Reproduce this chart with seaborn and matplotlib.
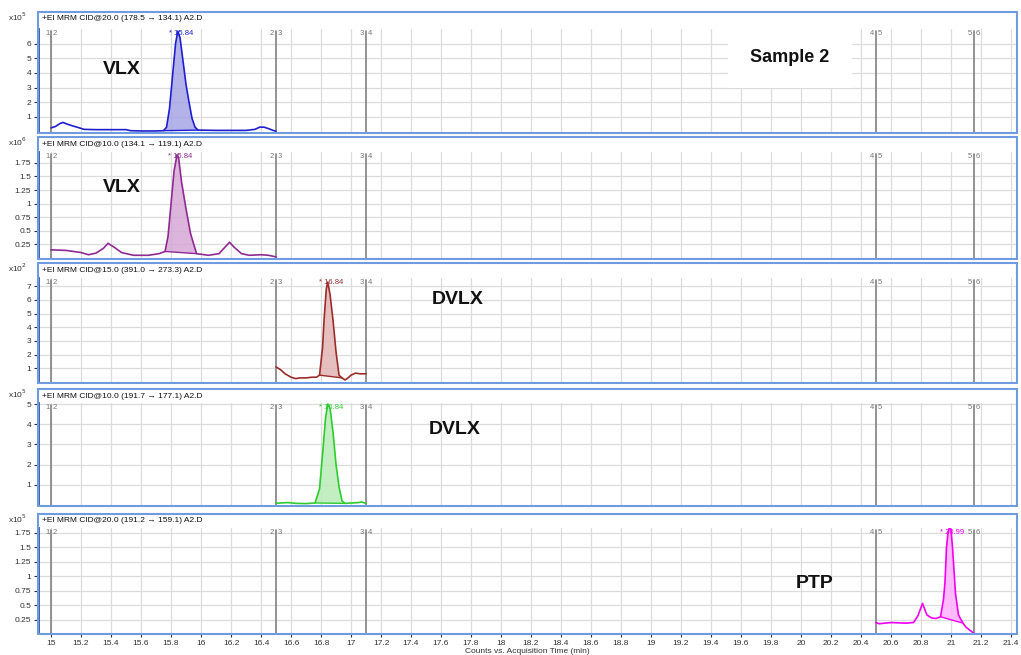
import matplotlib
matplotlib.use("Agg")
import matplotlib.pyplot as plt
import seaborn as sns
from matplotlib.patches import Rectangle

sns.set_theme(style="white")
plt.rcParams['font.family'] = ['Liberation Sans', 'DejaVu Sans']

# ---------------- data ----------------
headers = [
    "+EI MRM CID@20.0 (178.5 \u2192 134.1) A2.D",
    "+EI MRM CID@10.0 (134.1 \u2192 119.1) A2.D",
    "+EI MRM CID@15.0 (391.0 \u2192 273.3) A2.D",
    "+EI MRM CID@10.0 (191.7 \u2192 177.1) A2.D",
    "+EI MRM CID@20.0 (191.2 \u2192 159.1) A2.D",
]
exponents = [5, 6, 2, 5, 5]
compounds = ["VLX", "VLX", "DVLX", "DVLX", "PTP"]
peak_labels = ["* 15.84", "* 15.84", "* 16.84", "* 16.84", "* 20.99"]
segment_times = [15.0, 16.5, 17.1, 20.5, 21.15]
segment_names = ["1|2", "2|3", "3|4", "4|5", "5|6"]

y_ticks = [
    [1, 2, 3, 4, 5, 6],
    [0.25, 0.5, 0.75, 1, 1.25, 1.5, 1.75],
    [1, 2, 3, 4, 5, 6, 7],
    [1, 2, 3, 4, 5],
    [0.25, 0.5, 0.75, 1, 1.25, 1.5, 1.75],
]
x_ticks = [15.0, 15.2, 15.4, 15.6, 15.8, 16.0, 16.2, 16.4, 16.6, 16.8, 17.0,
           17.2, 17.4, 17.6, 17.8, 18.0, 18.2, 18.4, 18.6, 18.8, 19.0, 19.2,
           19.4, 19.6, 19.8, 20.0, 20.2, 20.4, 20.6, 20.8, 21.0, 21.2, 21.4]

t1 = [15.00, 15.03, 15.06, 15.08, 15.11, 15.14, 15.18, 15.22, 15.30, 15.40,
      15.50, 15.53, 15.60, 15.70, 15.75, 15.77, 15.79, 15.81, 15.83, 15.845,
      15.86, 15.88, 15.90, 15.92, 15.94, 15.96, 15.98, 16.05, 16.10, 16.20,
      16.30, 16.36, 16.39, 16.42, 16.45, 16.48, 16.50]
y1 = [0.25, 0.35, 0.55, 0.62, 0.50, 0.40, 0.28, 0.15, 0.13, 0.13,
      0.13, 0.06, 0.04, 0.04, 0.06, 0.30, 1.60, 3.80, 6.00, 6.85,
      6.40, 4.80, 3.20, 2.00, 0.90, 0.30, 0.10, 0.09, 0.08, 0.08,
      0.08, 0.15, 0.30, 0.30, 0.20, 0.08, 0.02]

t2 = [15.00, 15.10, 15.15, 15.20, 15.25, 15.30, 15.35, 15.38, 15.42, 15.47,
      15.55, 15.65, 15.72, 15.76, 15.78, 15.80, 15.82, 15.84, 15.85, 15.87,
      15.90, 15.93, 15.97, 16.05, 16.12, 16.16, 16.19, 16.22, 16.27, 16.32,
      16.40, 16.45, 16.50]
y2 = [0.15, 0.14, 0.12, 0.10, 0.06, 0.09, 0.18, 0.27, 0.20, 0.10,
      0.05, 0.05, 0.08, 0.12, 0.40, 1.00, 1.60, 1.90, 1.85, 1.40,
      0.90, 0.45, 0.08, 0.05, 0.08, 0.20, 0.29, 0.20, 0.08, 0.05,
      0.06, 0.05, 0.02]

t3 = [16.50, 16.53, 16.56, 16.60, 16.63, 16.66, 16.70, 16.74, 16.77, 16.79,
      16.81, 16.82, 16.835, 16.845, 16.86, 16.88, 16.90, 16.92, 16.94, 16.96,
      16.98, 17.00, 17.03, 17.06, 17.10]
y3 = [1.10, 0.90, 0.60, 0.35, 0.25, 0.30, 0.30, 0.35, 0.35, 0.50,
      2.50, 4.50, 6.80, 7.30, 6.40, 4.50, 2.20, 0.50, 0.30, 0.15,
      0.30, 0.50, 0.65, 0.60, 0.60]

t4 = [16.50, 16.53, 16.58, 16.63, 16.70, 16.76, 16.79, 16.81, 16.83, 16.845,
      16.86, 16.88, 16.90, 16.92, 16.94, 16.96, 17.00, 17.05, 17.07, 17.10]
y4 = [0.08, 0.10, 0.12, 0.08, 0.07, 0.10, 0.80, 2.50, 4.30, 5.00,
      4.80, 3.60, 2.00, 0.90, 0.20, 0.08, 0.10, 0.12, 0.15, 0.08]

t5 = [20.50, 20.52, 20.60, 20.70, 20.75, 20.78, 20.81, 20.84, 20.87, 20.90,
      20.93, 20.95, 20.96, 20.97, 20.98, 20.99, 21.00, 21.01, 21.02, 21.03,
      21.05, 21.08, 21.10, 21.13, 21.15]
y5 = [0.20, 0.18, 0.20, 0.19, 0.20, 0.32, 0.53, 0.33, 0.28, 0.27,
      0.30, 0.60, 0.90, 1.50, 1.75, 1.85, 1.80, 1.50, 1.10, 0.70,
      0.33, 0.19, 0.12, 0.06, 0.02]

times = [t1, t2, t3, t4, t5]
signals = [y1, y2, y3, y4, y5]
# integration limits (start, end) of each shaded peak
peak_windows = [(15.75, 15.98), (15.76, 15.97), (16.79, 16.94), (16.76, 16.96), (20.93, 21.08)]

line_colors = ["#1f1fd0", "#8e2a93", "#9c2b2b", "#2ecc2e", "#f000f0"]
fill_colors = ["#a6a6e6", "#d6a8d6", "#e2b4b4", "#b8ecb8", "#ffb0ff"]

# ---------------- layout (pixels) ----------------
W, H = 1021, 655
frame_tops = [12, 137, 263, 389, 514]
ax_tops = [29, 152, 278, 403, 528]
ax_bots = [132, 258, 382, 505, 633]
ylims = [(-0.03, 7.0), (0.0, 1.95), (0.0, 7.6), (0.0, 5.05), (0.02, 1.83)]
left_px, right_px = 38, 1017
xlim = (14.913, 21.44)
text_pos = [(122, 70), (122, 188), (458, 300), (455, 430), (815, 583)]

fig = plt.figure(figsize=(W / 100, H / 100), dpi=100)
fig.patch.set_facecolor("white")

def fx(px):
    return px / W

def fy(py):
    return 1 - py / H

grid_color = "#dcdcdc"
frame_color = "#6f9be0"

for i in range(5):
    ax = fig.add_axes([fx(left_px), fy(ax_bots[i]),
                       fx(right_px) - fx(left_px),
                       (ax_bots[i] - ax_tops[i]) / H])
    ax.set_xlim(*xlim)
    ax.set_ylim(*ylims[i])
    ax.set_facecolor("white")
    for v in x_ticks:
        ax.axvline(v, color=grid_color, lw=0.9, zorder=0)
    for v in y_ticks[i]:
        ax.axhline(v, color=grid_color, lw=0.9, zorder=0)

    # segment boundaries
    ytop = ylims[i][1]
    for st, nm in zip(segment_times, segment_names):
        ax.plot([st, st], [ylims[i][0], ytop * 0.985], color="#8a8a8a", lw=1.3, zorder=1)
        a, b = nm.split("|")
        ax.text(st - 0.012, ytop * 0.99, a, ha="right", va="top", fontsize=5.5, color="#777777")
        ax.text(st + 0.012, ytop * 0.99, b, ha="left", va="top", fontsize=5.5, color="#777777")

    t, s = times[i], signals[i]
    t0, t1_ = peak_windows[i]
    idx = [k for k, tv in enumerate(t) if t0 <= tv <= t1_]
    px_ = [t[k] for k in idx]
    py_ = [s[k] for k in idx]
    base_x = [px_[-1], px_[0]]
    base_y = [py_[-1], py_[0]]
    ax.fill(px_ + base_x, py_ + base_y, color=fill_colors[i], alpha=0.85, lw=0, zorder=2)
    ax.plot(base_x, base_y, color=line_colors[i], lw=1.0, zorder=3)
    sns.lineplot(x=t, y=s, ax=ax, color=line_colors[i], linewidth=1.2,
                 estimator=None, sort=False, zorder=4)

    # peak label
    kmax = s.index(max(s))
    ax.text(t[kmax] + 0.02, ytop * 0.995, peak_labels[i], ha="center", va="top",
            fontsize=5.5, color=line_colors[i], zorder=5)

    # axes styling
    for sp in ["top", "right", "bottom"]:
        ax.spines[sp].set_visible(False)
    ax.spines["left"].set_color("#2a4fa8")
    ax.spines["left"].set_linewidth(2.0)
    ax.set_yticks(y_ticks[i])
    ax.set_yticklabels([f"{v:g}" for v in y_ticks[i]], fontsize=6, color="#333333")
    ax.tick_params(axis="y", length=3, width=0.8, color="#333333", pad=2, left=True)
    ax.set_xticks(x_ticks)
    if i == 4:
        ax.set_xticklabels([f"{v:g}" for v in x_ticks], fontsize=6, color="#333333")
        ax.tick_params(axis="x", length=3, width=0.8, color="#333333", pad=2, bottom=True)
        ax.set_xlabel("Counts vs. Acquisition Time (min)", fontsize=6, color="#333333", labelpad=1)
    else:
        ax.set_xticklabels([])
        ax.tick_params(axis="x", length=0)
    ax.set_ylabel("")
    ax.grid(False)

    # frame and header
    fig.add_artist(Rectangle((fx(left_px), fy(ax_bots[i] + 1)),
                             fx(right_px) - fx(left_px),
                             (ax_bots[i] + 1 - frame_tops[i]) / H,
                             fill=False, edgecolor=frame_color, lw=1.5,
                             transform=fig.transFigure, zorder=10))
    fig.text(fx(left_px + 4), fy(frame_tops[i] + 7), headers[i], fontsize=6,
             ha="left", va="center", color="#111111")
    fig.text(fx(8), fy(frame_tops[i] + 5), f"x10$^{{{exponents[i]}}}$", fontsize=6,
             ha="left", va="center", color="#333333")

    # compound annotation
    tx, ty = text_pos[i]
    fig.text(fx(tx), fy(ty), compounds[i], fontsize=14, fontweight="bold",
             ha="center", va="center", color="#111111")

fig.text(fx(790), fy(57), "Sample 2", fontsize=13, fontweight="bold",
         ha="center", va="center", color="#111111",
         bbox=dict(facecolor="white", edgecolor="none", pad=16))

fig.savefig("out.png", dpi=100, facecolor="white")
